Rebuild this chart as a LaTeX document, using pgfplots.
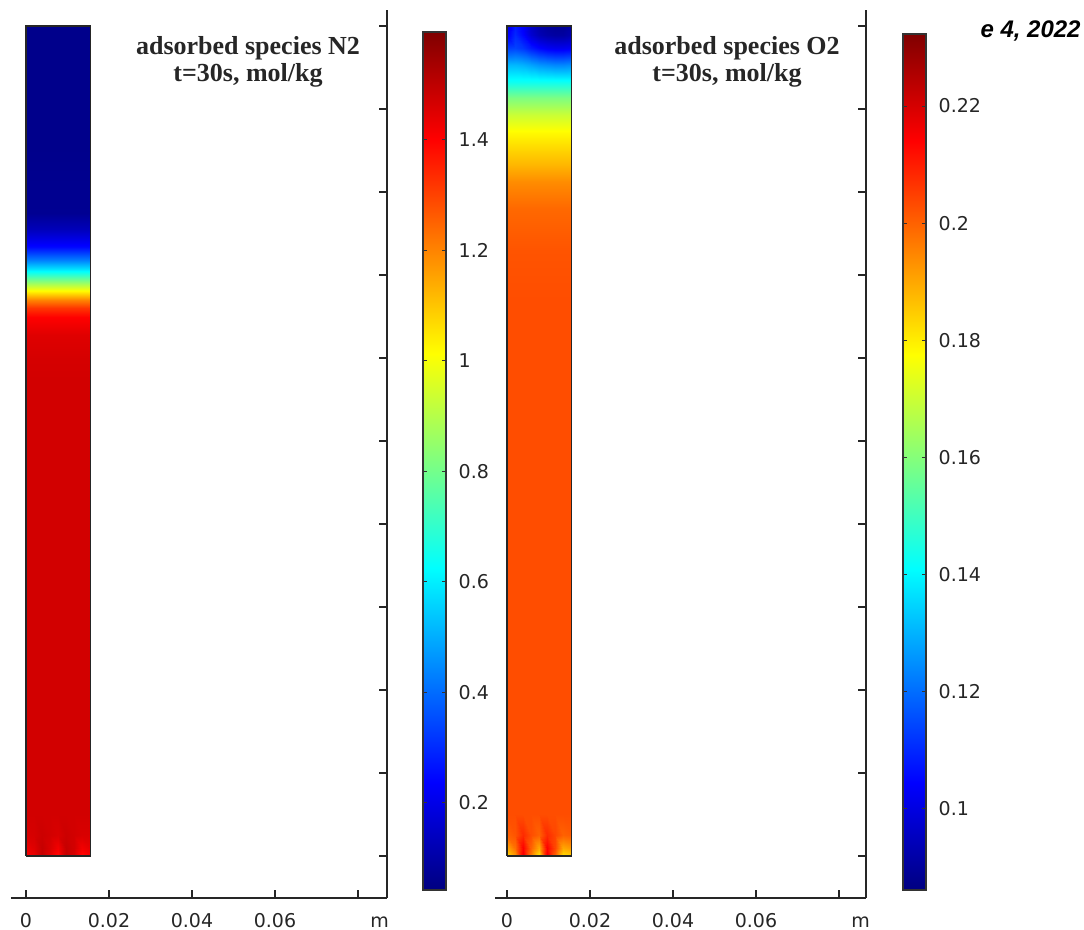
\documentclass[border=0pt]{standalone}
\usepackage{fontspec}
\setmainfont{DejaVu Sans}
\newfontfamily\titlefont{Liberation Serif}
\newfontfamily\datefont{Liberation Sans}
\usepackage{pgfplots}
\pgfplotsset{compat=1.18}

\pgfplotsset{
  panel/.style={
    scale only axis, anchor=south west,
    axis x line=bottom, axis y line=right,
    axis line style={-, line width=0.8pt, black!85},
    tick align=inside, major tick length=4pt, minor tick length=4pt,
    tick style={line width=0.8pt, black!85},
    xtick={0,0.02,0.04,0.06},
    xticklabels={0,0.02,0.04,0.06},
    minor xtick={0.08},
    extra x ticks={0.0852}, extra x tick labels={m},
    extra x tick style={major tick length=0pt},
    ytick={0,0.02,0.04,0.06,0.08,0.1,0.12,0.14,0.16,0.18,0.2},
    yticklabels={{},{},{},{},{},{},{},{},{},{},{}},
    xticklabel style={font=\fontsize{9.5}{11}\selectfont, text=black!85, anchor=base, inner sep=0pt, yshift=-14.6pt},
    colormap/jet,
    colorbar,
  },
  cbar/.style={
    at={(parent axis.south east)}, anchor=south west,
    scale only axis,
    width=11.5pt,
    tick align=inside, ytick pos=both, yticklabel pos=right,
    major tick length=2pt,
    tick style={line width=0.5pt, black!80},
    axis line style={line width=0.6pt, black!80},
    yticklabel style={font=\fontsize{9.5}{11}\selectfont, text=black!85, xshift=2.8pt},
  },
}

\begin{document}
\begin{tikzpicture}
\useasboundingbox (0,0) rectangle (542pt,465pt);

% ---------------- Panel 1: adsorbed N2 ----------------
\begin{axis}[panel,
  at={(5.5pt,16pt)}, width=188pt, height=444pt,
  xmin=-0.00361, xmax=0.08699, ymin=-0.01012, ymax=0.20386,
  point meta min=0.0425, point meta max=1.5955,
  colorbar style={cbar, xshift=9.5pt, yshift=4pt, height=429pt,
    ytick={0.2,0.4,0.6,0.8,1,1.2,1.4},
    yticklabels={0.2,0.4,0.6,0.8,1,1.2,1.4}},
]
% bottom block (inlet region)
\addplot[surf, shader=interp, mesh/cols=9, point meta=explicit] table[meta=c] {
x y c
0 0 1.40
0.00194 0 1.43
0.00388 0 1.49
0.00581 0 1.44
0.00775 0 1.38
0.00969 0 1.49
0.01163 0 1.46
0.01356 0 1.38
0.0155 0 1.41
0 0.002 1.43
0.00194 0.002 1.45
0.00388 0.002 1.49
0.00581 0.002 1.46
0.00775 0.002 1.42
0.00969 0.002 1.49
0.01163 0.002 1.47
0.01356 0.002 1.42
0.0155 0.002 1.44
0 0.005 1.46
0.00194 0.005 1.465
0.00388 0.005 1.48
0.00581 0.005 1.47
0.00775 0.005 1.46
0.00969 0.005 1.48
0.01163 0.005 1.47
0.01356 0.005 1.46
0.0155 0.005 1.46
0 0.01 1.47
0.00194 0.01 1.47
0.00388 0.01 1.47
0.00581 0.01 1.47
0.00775 0.01 1.47
0.00969 0.01 1.47
0.01163 0.01 1.47
0.01356 0.01 1.47
0.0155 0.01 1.47
};
% main column profile
\addplot[surf, shader=interp, mesh/cols=2, point meta=explicit] table[meta=c] {
x y c
0 0.01 1.47
0.0155 0.01 1.47
0 0.06 1.47
0.0155 0.06 1.47
0 0.115 1.47
0.0155 0.115 1.47
0 0.12 1.465
0.0155 0.12 1.465
0 0.1255 1.45
0.0155 0.1255 1.45
0 0.1299 1.40
0.0155 0.1299 1.40
0 0.132 1.32
0.0155 0.132 1.32
0 0.134 1.20
0.0155 0.134 1.20
0 0.1364 1.00
0.0155 0.1364 1.00
0 0.1388 0.80
0.0155 0.1388 0.80
0 0.1412 0.60
0.0155 0.1412 0.60
0 0.1436 0.43
0.0155 0.1436 0.43
0 0.1467 0.25
0.0155 0.1467 0.25
0 0.151 0.13
0.0155 0.151 0.13
0 0.155 0.07
0.0155 0.155 0.07
0 0.17 0.06
0.0155 0.17 0.06
0 0.2 0.06
0.0155 0.2 0.06
};
\addplot[no markers, black!85, line width=0.6pt] coordinates {(0,0) (0.0155,0) (0.0155,0.2) (0,0.2) (0,0)};
\end{axis}

% ---------------- Panel 2: adsorbed O2 ----------------
\begin{axis}[panel,
  at={(247.5pt,16pt)}, width=185.5pt, height=444pt,
  xmin=-0.00289, xmax=0.08651, ymin=-0.01012, ymax=0.20386,
  point meta min=0.08617, point meta max=0.2323,
  colorbar style={cbar, xshift=10pt, yshift=4pt, height=428pt,
    ytick={0.1,0.12,0.14,0.16,0.18,0.2,0.22},
    yticklabels={0.1,0.12,0.14,0.16,0.18,0.2,0.22}},
]
% bottom block (inlet region)
\addplot[surf, shader=interp, mesh/cols=9, point meta=explicit] table[meta=c] {
x y c
0 0 0.182
0.00194 0 0.192
0.00388 0 0.216
0.00581 0 0.196
0.00775 0 0.181
0.00969 0 0.216
0.01163 0 0.200
0.01356 0 0.182
0.0155 0 0.184
0 0.002 0.190
0.00194 0.002 0.198
0.00388 0.002 0.214
0.00581 0.002 0.200
0.00775 0.002 0.190
0.00969 0.002 0.214
0.01163 0.002 0.204
0.01356 0.002 0.190
0.0155 0.002 0.192
0 0.005 0.200
0.00194 0.005 0.202
0.00388 0.005 0.208
0.00581 0.005 0.203
0.00775 0.005 0.200
0.00969 0.005 0.208
0.01163 0.005 0.204
0.01356 0.005 0.200
0.0155 0.005 0.201
0 0.01 0.203
0.00194 0.01 0.203
0.00388 0.01 0.203
0.00581 0.01 0.203
0.00775 0.01 0.203
0.00969 0.01 0.203
0.01163 0.01 0.203
0.01356 0.01 0.203
0.0155 0.01 0.203
};
% main column profile
\addplot[surf, shader=interp, mesh/cols=2, point meta=explicit] table[meta=c] {
x y c
0 0.01 0.203
0.0155 0.01 0.203
0 0.10 0.203
0.0155 0.10 0.203
0 0.134 0.203
0.0155 0.134 0.203
0 0.146 0.202
0.0155 0.146 0.202
0 0.1561 0.199
0.0155 0.1561 0.199
0 0.1624 0.194
0.0155 0.1624 0.194
0 0.1665 0.188
0.0155 0.1665 0.188
0 0.1706 0.183
0.0155 0.1706 0.183
0 0.1745 0.178
0.0155 0.1745 0.178
0 0.1786 0.170
0.0155 0.1786 0.170
0 0.1827 0.159
0.0155 0.1827 0.159
0 0.1865 0.143
0.0155 0.1865 0.143
};
% top block (outlet region)
\addplot[surf, shader=interp, mesh/cols=9, point meta=explicit] table[meta=c] {
x y c
0 0.1865 0.143
0.00194 0.1865 0.143
0.00388 0.1865 0.143
0.00581 0.1865 0.143
0.00775 0.1865 0.143
0.00969 0.1865 0.143
0.01163 0.1865 0.143
0.01356 0.1865 0.143
0.0155 0.1865 0.143
0 0.1906 0.131
0.00194 0.1906 0.131
0.00388 0.1906 0.130
0.00581 0.1906 0.128
0.00775 0.1906 0.126
0.00969 0.1906 0.125
0.01163 0.1906 0.124
0.01356 0.1906 0.124
0.0155 0.1906 0.125
0 0.1947 0.113
0.00194 0.1947 0.114
0.00388 0.1947 0.112
0.00581 0.1947 0.108
0.00775 0.1947 0.105
0.00969 0.1947 0.103
0.01163 0.1947 0.102
0.01356 0.1947 0.102
0.0155 0.1947 0.103
0 0.1978 0.103
0.00194 0.1978 0.110
0.00388 0.1978 0.105
0.00581 0.1978 0.098
0.00775 0.1978 0.094
0.00969 0.1978 0.092
0.01163 0.1978 0.091
0.01356 0.1978 0.091
0.0155 0.1978 0.093
0 0.2 0.100
0.00194 0.2 0.108
0.00388 0.2 0.103
0.00581 0.2 0.096
0.00775 0.2 0.092
0.00969 0.2 0.090
0.01163 0.2 0.089
0.01356 0.2 0.089
0.0155 0.2 0.091
};
\addplot[no markers, black!85, line width=0.6pt] coordinates {(0,0) (0.0155,0) (0.0155,0.2) (0,0.2) (0,0)};
\end{axis}

% ---------------- titles ----------------
\node[anchor=base, text=black!85, font=\titlefont\bfseries\fontsize{13}{15}\selectfont] at (124pt,437.7pt) {adsorbed species N2};
\node[anchor=base, text=black!85, font=\titlefont\bfseries\fontsize{13}{15}\selectfont] at (124pt,424pt) {t=30s, mol/kg};
\node[anchor=base, text=black!85, font=\titlefont\bfseries\fontsize{13}{15}\selectfont] at (363.5pt,437.7pt) {adsorbed species O2};
\node[anchor=base, text=black!85, font=\titlefont\bfseries\fontsize{13}{15}\selectfont] at (363.5pt,424pt) {t=30s, mol/kg};

% ---------------- cropped date stamp ----------------
\begin{scope}
\clip (490.3pt,430pt) rectangle (542pt,465pt);
\node[anchor=base east, inner sep=0pt, font=\datefont\bfseries\itshape\fontsize{12}{14}\selectfont] at (540.5pt,446pt) {e 4, 2022};
\end{scope}
\end{tikzpicture}
\end{document}
